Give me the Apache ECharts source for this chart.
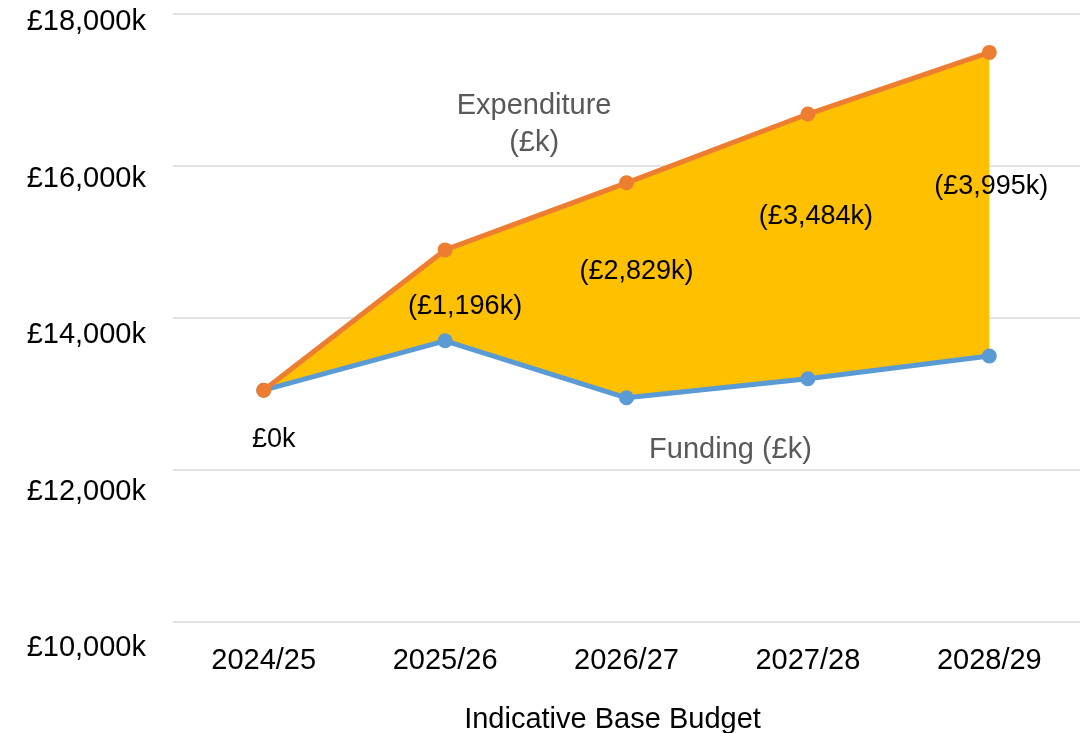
<!DOCTYPE html>
<html>
<head>
<meta charset="utf-8">
<script src="https://cdn.jsdelivr.net/npm/echarts@6/dist/echarts.min.js"></script>
<style>
html,body{margin:0;padding:0;background:#fff;}
#chart{width:1089px;height:733px;}
</style>
</head>
<body>
<div id="chart"></div>
<script>
// ---- data ----
const years = ['2024/25', '2025/26', '2026/27', '2027/28', '2028/29'];
const funding = [13050, 13700, 12950, 13200, 13500];
const gap = [0, 1196, 2829, 3484, 3995];
const yTicks = [10000, 12000, 14000, 16000, 18000];
const fundingName = 'Funding (£k)';
const expenditureName = 'Expenditure (£k)';
const xTitle = 'Indicative Base Budget';

const expenditure = funding.map((v, i) => v + gap[i]);

const FONT = "'Liberation Sans', Arial, sans-serif";
const gapOffsets = [[10, 49], [20, 57], [10, 89], [8, 103], [2, 134]];

function money(v) { return v.toLocaleString('en-GB'); }

const chart = echarts.init(document.getElementById('chart'), null, {renderer: 'canvas'});

const option = {
  backgroundColor: '#fff',
  animation: false,
  textStyle: {fontFamily: FONT},
  grid: [
    {left: 173, right: 9, top: 14, bottom: 111, outerBoundsMode: 'none', containLabel: false},
    {left: 173, right: 9, top: 22, bottom: 85, outerBoundsMode: 'none', containLabel: false}
  ],
  xAxis: [
    {
      type: 'category', gridIndex: 0, data: years, boundaryGap: true,
      axisLine: {show: false}, axisTick: {show: false},
      axisLabel: {fontSize: 29, color: '#000', margin: 24, fontFamily: FONT},
      name: xTitle, nameLocation: 'middle', nameGap: 83,
      nameTextStyle: {fontSize: 29, color: '#000', fontFamily: FONT, padding: [0, 28, 0, 0]}
    },
    {type: 'category', gridIndex: 1, data: years, show: false}
  ],
  yAxis: [
    {
      type: 'value', gridIndex: 0, min: yTicks[0], max: yTicks[yTicks.length - 1], interval: 2000,
      axisLabel: {show: false}, axisLine: {show: false}, axisTick: {show: false},
      splitLine: {lineStyle: {color: '#d9d9d9', width: 1.5}}
    },
    {
      type: 'value', gridIndex: 1, min: yTicks[0], max: yTicks[yTicks.length - 1], interval: 2000,
      axisLine: {show: false}, axisTick: {show: false}, splitLine: {show: false},
      axisLabel: {fontSize: 29, color: '#000', margin: 27, fontFamily: FONT,
        formatter: v => '£' + money(v) + 'k'}
    }
  ],
  series: [
    {
      name: 'base', type: 'line', stack: 'gap', data: funding,
      symbol: 'none', lineStyle: {opacity: 0, width: 0}, silent: true, z: 1
    },
    {
      name: 'gap', type: 'line', stack: 'gap',
      data: gap.map((v, i) => ({
        value: v,
        label: {
          show: true, position: 'inside', offset: gapOffsets[i],
          formatter: () => v === 0 ? '£' + money(v) + 'k' : '(£' + money(v) + 'k)',
          fontSize: 27, color: '#000', fontFamily: FONT
        }
      })),
      symbol: 'circle', symbolSize: 1, itemStyle: {color: 'rgba(0,0,0,0)'},
      lineStyle: {opacity: 0, width: 0},
      areaStyle: {color: '#FFC000', opacity: 1},
      z: 2
    },
    {
      name: fundingName, type: 'line',
      data: funding.map((v, i) => i === 2 ? {
        value: v,
        label: {show: true, position: 'inside', offset: [104, 52],
          formatter: fundingName, fontSize: 29, color: '#595959', fontFamily: FONT}
      } : v),
      symbol: 'circle', symbolSize: 15,
      itemStyle: {color: '#5B9BD5'},
      lineStyle: {color: '#5B9BD5', width: 5},
      z: 3
    },
    {
      name: expenditureName, type: 'line',
      data: expenditure.map((v, i) => i === 1 ? {
        value: v,
        label: {show: true, position: 'inside', offset: [89, -125],
          formatter: expenditureName.replace(' (', '\n('), fontSize: 29, lineHeight: 37,
          color: '#595959', fontFamily: FONT}
      } : v),
      symbol: 'circle', symbolSize: 15,
      itemStyle: {color: '#ED7D31'},
      lineStyle: {color: '#ED7D31', width: 5},
      z: 4
    }
  ]
};
chart.setOption(option);
</script>
</body>
</html>
